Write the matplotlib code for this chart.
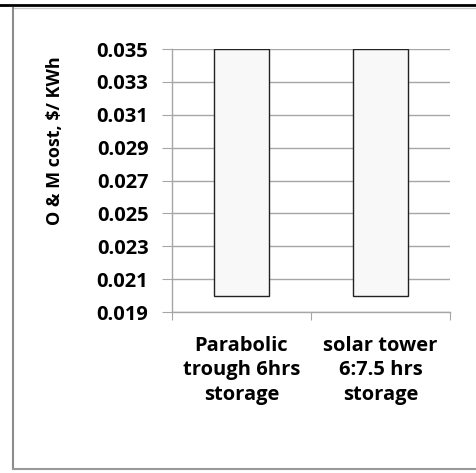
import matplotlib
matplotlib.use('Agg')
import matplotlib.pyplot as plt
from matplotlib.lines import Line2D
from matplotlib.ticker import FixedLocator

# floating bars: O&M cost range per plant type
categories = ["Parabolic\ntrough 6hrs\nstorage", "solar tower\n6:7.5 hrs\nstorage"]
cost_low = [0.020, 0.020]
cost_high = [0.035, 0.035]
y_ticks = [0.019, 0.021, 0.023, 0.025, 0.027, 0.029, 0.031, 0.033, 0.035]

plt.rcParams['font.family'] = ['Open Sans', 'DejaVu Sans']

W, H = 476, 473
fig = plt.figure(figsize=(W / 100, H / 100), dpi=100)
ax = fig.add_axes([172 / W, 1 - 312 / H, (450 - 172) / W, (312 - 49) / H])

grid_col = '#a6a6a6'
x = [i + 0.5 for i in range(len(categories))]
heights = [h - l for h, l in zip(cost_high, cost_low)]
ax.bar(x, heights, bottom=cost_low, width=0.4, color='#f8f8f8',
       edgecolor='#222222', linewidth=1.0, zorder=3)

ax.set_xlim(0, len(categories))
ax.set_ylim(y_ticks[0], y_ticks[-1])
ax.set_yticks(y_ticks)
ax.set_yticklabels([f"{t:.3f}" for t in y_ticks], fontsize=14.5, fontweight='bold')
ax.yaxis.grid(True, color=grid_col, linewidth=1.0, zorder=0)

ax.xaxis.set_major_locator(FixedLocator(range(len(categories) + 1)))
ax.set_xticklabels([])
ax.xaxis.set_minor_locator(FixedLocator(x))
ax.set_xticklabels(categories, minor=True, fontsize=14.5, fontweight='bold',
                   linespacing=1.3)
ax.tick_params(axis='x', which='minor', length=0, pad=17)
ax.tick_params(axis='x', which='major', length=6, color=grid_col, direction='out')
ax.tick_params(axis='y', length=7, color=grid_col, pad=10)

for side in ['top', 'right']:
    ax.spines[side].set_visible(False)
for side in ['left', 'bottom']:
    ax.spines[side].set_color(grid_col)
    ax.spines[side].set_linewidth(1.0)

ax.set_ylabel("O & M cost, $/ KWh", fontsize=13, fontweight='bold')
# label sits above the axis middle, as in the original
ax.yaxis.set_label_coords(-0.39, 0.65)

# page frame around the chart
fig.add_artist(Line2D([0, 1], [1 - 5.5 / H, 1 - 5.5 / H], color='black', linewidth=2.0))
fig.add_artist(Line2D([13 / W, 1], [1 - 8 / H, 1 - 8 / H], color='#c8c8c8', linewidth=1.0))
fig.add_artist(Line2D([13 / W, 13 / W], [1 - 8 / H, 1 - 469 / H], color='#8c8c8c', linewidth=1.5))
fig.add_artist(Line2D([13 / W, 1], [1 - 469 / H, 1 - 469 / H], color='#999999', linewidth=1.5))

fig.savefig("out.png", dpi=100)
